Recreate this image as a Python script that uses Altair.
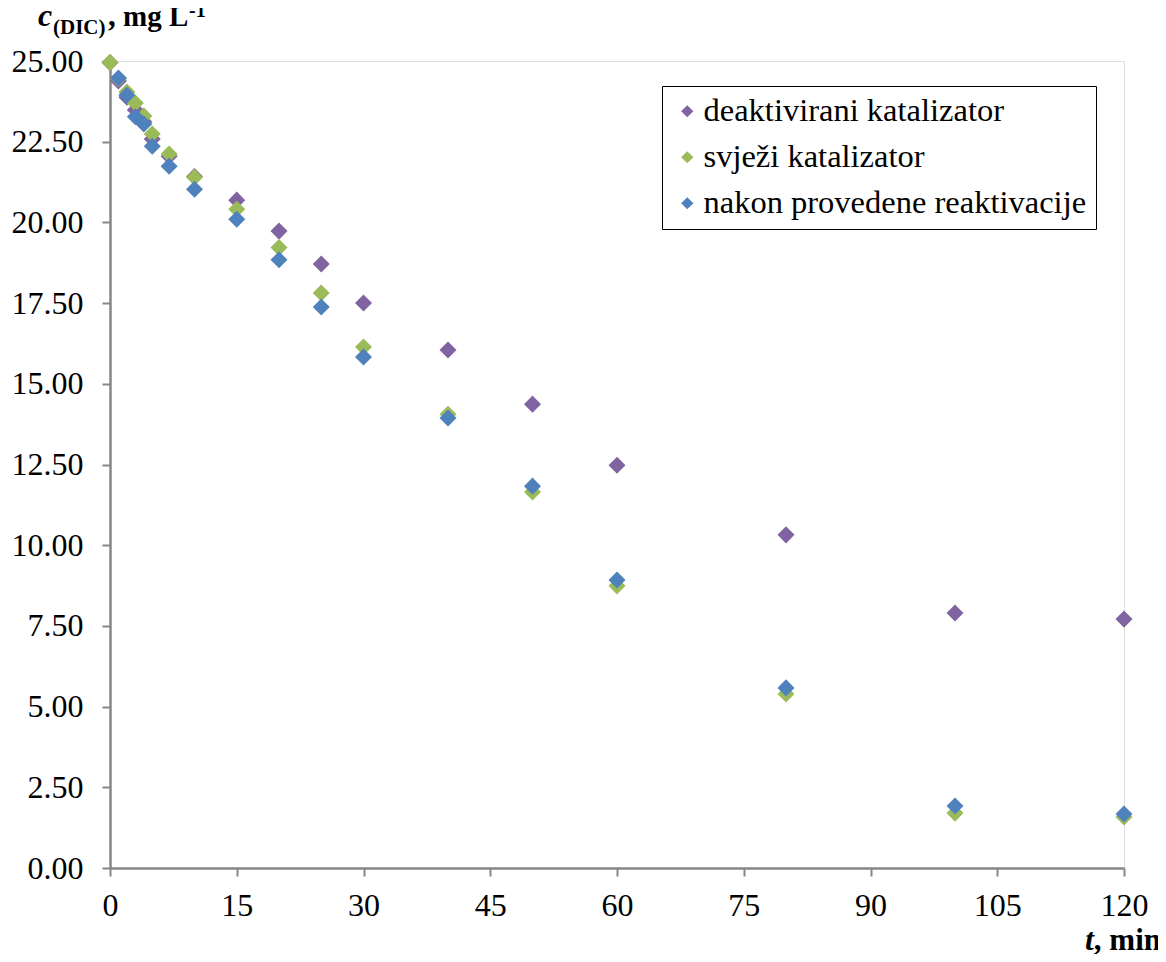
import altair as alt
import pandas as pd

times = [0, 1, 2, 3, 4, 5, 7, 10, 15, 20, 25, 30, 40, 50, 60, 80, 100, 120]
deaktivirani = [24.95, 24.38, 23.88, 23.48, 23.12, 22.58, 22.05, 21.42, 20.69, 19.73, 18.71, 17.50, 16.05, 14.37, 12.48, 10.32, 7.90, 7.71]
svjezi = [24.95, 24.45, 24.04, 23.70, 23.30, 22.74, 22.12, 21.40, 20.41, 19.22, 17.81, 16.14, 14.06, 11.65, 8.74, 5.39, 1.70, 1.58]
times_r = [1, 2, 3, 4, 5, 7, 10, 15, 20, 25, 30, 40, 50, 60, 80, 100, 120]
reaktivacija = [24.47, 23.95, 23.27, 23.05, 22.36, 21.74, 21.03, 20.10, 18.84, 17.38, 15.83, 13.94, 11.83, 8.92, 5.58, 1.92, 1.67]

names = ["deaktivirani katalizator", "svježi katalizator", "nakon provedene reaktivacije"]
colors = ["#8064A2", "#9BBB59", "#4F81BD"]
x_ticks = [0, 15, 30, 45, 60, 75, 90, 105, 120]
y_ticks = [0, 2.5, 5, 7.5, 10, 12.5, 15, 17.5, 20, 22.5, 25]

rows = []
for t, v in zip(times, deaktivirani):
    rows.append({"t": t, "c": v, "serija": names[0], "o": 0})
for t, v in zip(times, svjezi):
    rows.append({"t": t, "c": v, "serija": names[1], "o": 1})
for t, v in zip(times_r, reaktivacija):
    rows.append({"t": t, "c": v, "serija": names[2], "o": 2})
df = pd.DataFrame(rows)

FONT = "Liberation Serif"
W, H = 1014, 807

points = alt.Chart(df).mark_point(shape="diamond", filled=True, size=290, opacity=1).encode(
    x=alt.X("t:Q", scale=alt.Scale(domain=[0, 120], nice=False, zero=False),
            axis=alt.Axis(values=x_ticks, title=None, grid=False, domainColor="#868686",
                          domainWidth=2.5, tickColor="#868686", tickWidth=2, tickSize=8,
                          labelFont=FONT, labelFontSize=32, labelColor="black",
                          labelPadding=14, labelFlush=False)),
    y=alt.Y("c:Q", scale=alt.Scale(domain=[0, 25], nice=False),
            axis=alt.Axis(values=y_ticks, title=None, grid=False, format=".2f",
                          domainColor="#868686", domainWidth=2.5, tickColor="#868686",
                          tickWidth=2, tickSize=8, labelFont=FONT, labelFontSize=32,
                          labelColor="black", labelPadding=19)),
    color=alt.Color("serija:N", scale=alt.Scale(domain=names, range=colors),
                    legend=alt.Legend(title=None, orient="none", legendX=552, legendY=25,
                                      strokeColor="black", fillColor="white",
                                      padding=9, symbolType="diamond", symbolSize=150,
                                      symbolOffset=0, labelLimit=1000,
                                      labelFont=FONT, labelFontSize=32.5, labelColor="black",
                                      rowPadding=13, labelOffset=0, symbolStrokeWidth=0)),
    order=alt.Order("o:Q"),
)

def txt(s, x, y, size=26, italic=False, bold=True, align="left"):
    return alt.Chart(pd.DataFrame({"s": [s]})).mark_text(
        font=FONT, fontSize=size, fontWeight="bold" if bold else "normal",
        fontStyle="italic" if italic else "normal", align=align, baseline="alphabetic",
        color="black").encode(text="s:N", x=alt.value(x), y=alt.value(y))

# y title (top-left), coordinates relative to plot area origin (110, 61)
ytitle = [
    txt("c", -72, -35, size=32, italic=True),
    txt("(DIC)", -57, -27, size=21),
    txt(",", -2, -35, size=31),
    txt("mg L", 13, -35, size=29),
    txt("-1", 79, -44, size=20),
]
xtitle = [
    txt("t", 984, 889, size=32, italic=True, align="right"),
    txt(", min", 1051, 889, size=31, align="right"),
]

chart = alt.layer(points, *ytitle, *xtitle).properties(
    width=W, height=H,
    padding={"left": 102, "top": 53, "right": 34, "bottom": 86},
    autosize=alt.AutoSizeParams(type="none"),
).configure_view(stroke="black", strokeWidth=1.5).configure(background="white")

chart.save("out.html", embed_options={"renderer": "svg", "actions": False})
